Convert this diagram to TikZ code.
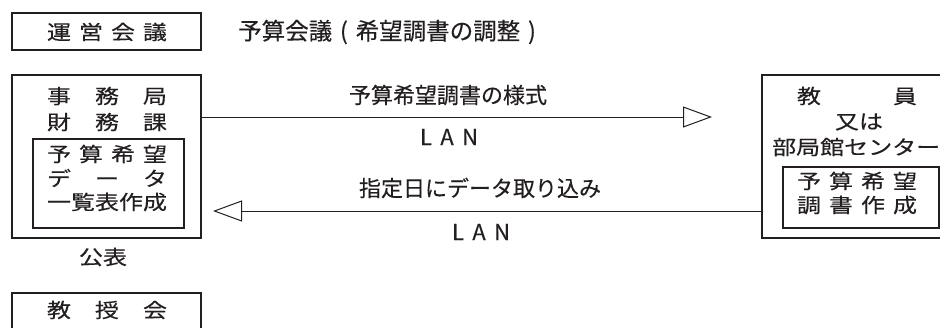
\documentclass[tikz,border=0pt]{standalone}
\usepackage{fontspec}
\usetikzlibrary{arrows.meta}
\newfontfamily\jpfont[FakeBold=0.3]{Noto Sans CJK JP}
\newfontfamily\jpwide[FakeStretch=1.2,FakeBold=0.3]{Noto Sans CJK JP}
\newcommand\spreadtxt[2]{\makebox[#1pt][s]{#2}}
\definecolor{ink}{HTML}{231F20}
\begin{document}
\begin{tikzpicture}[x=1pt,y=-1pt,
  box/.style={draw=ink, line width=1.3pt, inner sep=0pt, rectangle},
  wtxt/.style={inner sep=0pt, text=ink, font=\jpwide\fontsize{20}{24}\selectfont},
  lbl/.style={inner sep=0pt, text=ink, font=\jpfont\fontsize{22}{26}\selectfont},
  conn/.style={draw=ink, line width=1pt, -{Triangle[open,length=29pt,width=21pt,line width=1pt]}}]
\clip (0,0) rectangle (940,327);
\fill[white] (0,0) rectangle (940,327);
% top row
\node[box, minimum width=189pt, minimum height=37pt] (unei) at (106.5,31.5) {};
\node[wtxt] (uneit) at (107,32) {\spreadtxt{120}{運\hfill 営\hfill 会\hfill 議}};
\node[lbl, anchor=west, font=\jpfont\fontsize{23.5}{28}\selectfont] (yosankaigi) at (238,32) {予算会議\makebox[1em]{(}希望調書の調整\makebox[1em]{)}};
% left box
\node[box, minimum width=189pt, minimum height=163pt] (jimu) at (106.5,156.5) {};
\node[box, minimum width=151pt, minimum height=89pt] (jimuin) at (108.5,183.5) {};
\node[wtxt] (j1) at (107,96) {\spreadtxt{120}{事\hfill 務\hfill 局}};
\node[wtxt] (j2) at (107,122) {\spreadtxt{120}{財\hfill 務\hfill 課}};
\node[wtxt] (j3) at (107,154) {\spreadtxt{120}{予\hfill 算\hfill 希\hfill 望}};
\node[wtxt] (j4) at (107,178) {\spreadtxt{120}{デ\hfill ー\hfill タ}};
\node[wtxt] (j5) at (107,202) {\spreadtxt{120}{一\hfill 覧\hfill 表\hfill 作\hfill 成}};
\node[wtxt] (koho) at (103,257) {公表};
% bottom box
\node[box, minimum width=189pt, minimum height=47pt] (kyoju) at (106.5,316.5) {};
\node[wtxt] (kyojut) at (107,310) {\spreadtxt{120}{教\hfill 授\hfill 会}};
% right box
\node[box, minimum width=198pt, minimum height=163pt] (kyoin) at (861,156.5) {};
\node[box, minimum width=156pt, minimum height=61pt] (kyoinin) at (861,197.5) {};
\node[wtxt] (k1) at (857,96) {\spreadtxt{120}{教\hfill 員}};
\node[wtxt] (k2) at (859,122) {又は};
\node[wtxt, anchor=west] (k3) at (772,147) {部局館センター};
\node[wtxt] (k4) at (857,181) {\spreadtxt{120}{予\hfill 算\hfill 希\hfill 望}};
\node[wtxt] (k5) at (857,205) {\spreadtxt{120}{調\hfill 書\hfill 作\hfill 成}};
% connectors
\coordinate (a1end) at (712,117);
\coordinate (a2end) at (213,211);
\draw[conn] (jimu.east |- a1end) -- (a1end);
\draw[conn] (kyoin.west |- a2end) -- (a2end);
\node[lbl] (l1) at (448,95) {予算希望調書の様式};
\node[lbl] (l2) at (449,137) {\spreadtxt{58}{L\hfill A\hfill N}};
\node[lbl] (l3) at (480,188) {指定日にデータ取り込み};
\node[lbl] (l4) at (481,232) {\spreadtxt{58}{L\hfill A\hfill N}};
\end{tikzpicture}
\end{document}
